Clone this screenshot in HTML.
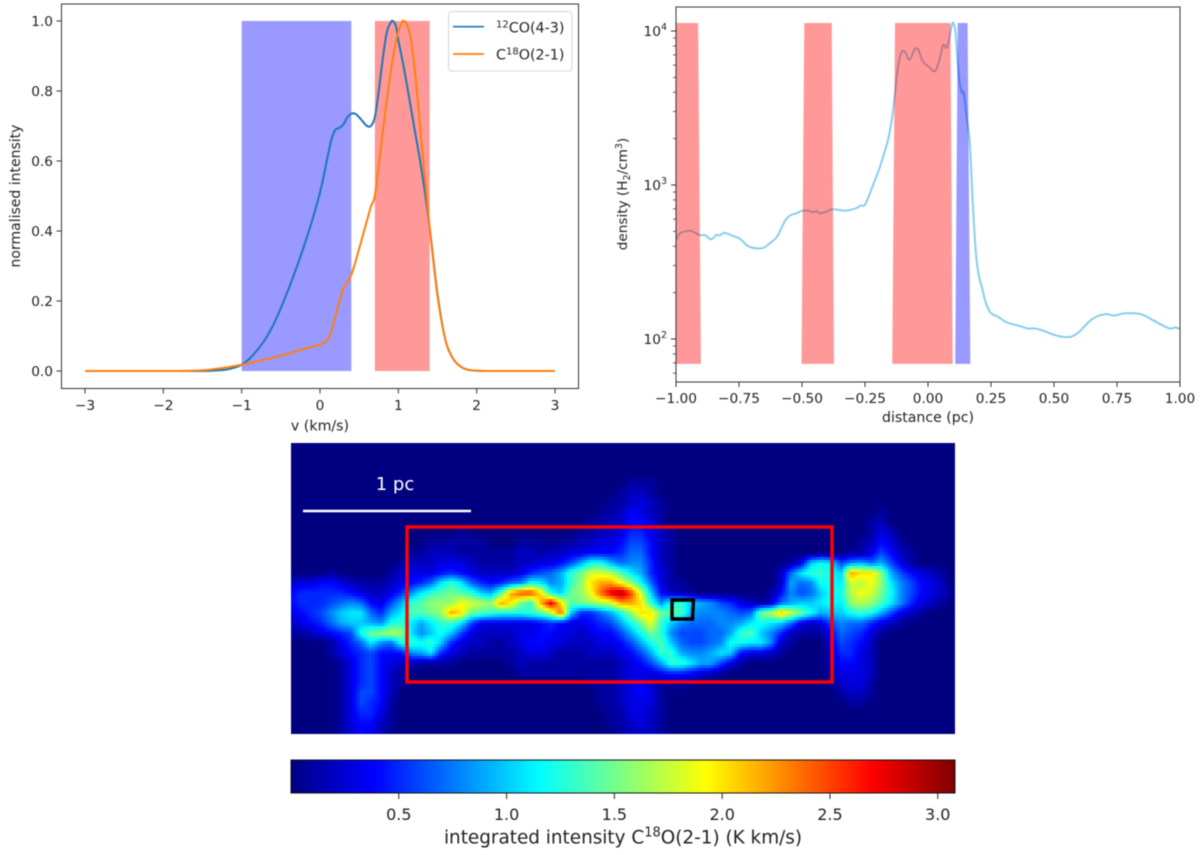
<!DOCTYPE html>
<html lang="en">
<head>
<meta charset="utf-8">
<title>Line profiles, density cut and integrated intensity map</title>
<style>
  html, body { margin: 0; padding: 0; background: #fff; }
  svg { display: block; filter: blur(0.45px); }
  text { font-family: "DejaVu Sans", "Liberation Sans", sans-serif; fill: #222; }
</style>
</head>
<body>
<svg id="figure" xmlns="http://www.w3.org/2000/svg" width="1200" height="855" viewBox="0 0 1200 855">
  <rect x="0" y="0" width="1200" height="855" fill="#fff"/>
  <g id="spectrum"></g>
  <g id="density"></g>
  <g id="map"></g>
  <g id="colorbar"></g>

  <g>
    <rect x="448.5" y="11.5" width="123.5" height="59.5" rx="3" fill="#fff" fill-opacity="0.85" stroke="#d5d5d5" stroke-width="1"/>
    <line x1="453" y1="26.7" x2="484" y2="26.7" stroke="#1f77b4" stroke-width="1.7"/>
    <text x="496" y="32.3" font-size="14.3"><tspan font-size="10" dy="-5">12</tspan><tspan dy="5">CO(4-3)</tspan></text>
    <line x1="453" y1="54" x2="484" y2="54" stroke="#ff7f0e" stroke-width="1.7"/>
    <text x="496" y="59.5" font-size="14.3">C<tspan font-size="10" dy="-5">18</tspan><tspan dy="5">O(2-1)</tspan></text>
  </g>

  <text x="320" y="430.5" font-size="14.2" text-anchor="middle">v (km/s)</text>
  <text transform="translate(20,196) rotate(-90)" font-size="14" text-anchor="middle">normalised intensity</text>
  <text x="928" y="422" font-size="14.1" text-anchor="middle">distance (pc)</text>
  <text transform="translate(627,194) rotate(-90)" font-size="13.6" text-anchor="middle">density (H<tspan font-size="9.5" dy="3">2</tspan><tspan dy="-3">/cm</tspan><tspan font-size="9.5" dy="-5">3</tspan><tspan dy="5">)</tspan></text>
  <text x="623" y="843.5" font-size="18.4" text-anchor="middle">integrated intensity C<tspan font-size="13" dy="-7">18</tspan><tspan dy="7">O(2-1) (K km/s)</tspan></text>
</svg>

<script>
// ---------- Spectrum chart data ----------
const coVelocity = [-3,-2,-1.5,-1.3,-1.2,-1.1,-1,-0.9,-0.8,-0.7,-0.6,-0.5,-0.4,-0.3,-0.2,-0.1,0,0.05,0.1,0.15,0.2,0.25,0.3,0.35,0.4,0.45,0.5,0.55,0.6,0.65,0.7,0.75,0.8,0.85,0.9,0.93,0.97,1,1.05,1.1,1.2,1.3,1.4,1.5,1.6,1.7,1.8,1.9,2,2.2,3];
const coIntensity = [0,0,0,0.002,0.004,0.009,0.018,0.035,0.06,0.09,0.13,0.18,0.235,0.295,0.36,0.43,0.51,0.56,0.615,0.665,0.69,0.695,0.705,0.725,0.735,0.735,0.725,0.712,0.7,0.7,0.725,0.8,0.89,0.965,0.995,1,0.985,0.945,0.89,0.83,0.7,0.57,0.41,0.22,0.09,0.035,0.012,0.003,0.001,0,0];
const c18oVelocity = [-3,-2,-1.6,-1.5,-1.4,-1.3,-1.2,-1.1,-1,-0.8,-0.6,-0.4,-0.2,0,0.05,0.1,0.15,0.2,0.25,0.3,0.35,0.4,0.45,0.5,0.55,0.6,0.65,0.7,0.75,0.8,0.85,0.9,0.95,1,1.05,1.07,1.1,1.15,1.2,1.25,1.3,1.35,1.4,1.5,1.6,1.7,1.8,1.9,2,2.2,3];
const c18oIntensity = [0,0,0.001,0.002,0.004,0.007,0.01,0.014,0.018,0.028,0.038,0.05,0.063,0.076,0.08,0.09,0.115,0.16,0.2,0.235,0.255,0.275,0.31,0.35,0.39,0.43,0.47,0.5,0.59,0.68,0.77,0.85,0.92,0.97,0.998,1,0.995,0.96,0.88,0.77,0.64,0.53,0.41,0.215,0.09,0.035,0.012,0.003,0.001,0,0];
const spectrumXTicks = [-3,-2,-1,0,1,2,3];
const spectrumYTicks = [0,0.2,0.4,0.6,0.8,1];
const blueWindow = [-1,0.4];
const redWindow = [0.7,1.4];

// ---------- Density chart data ----------
const cutDistance = [-1,-0.985,-0.967,-0.939,-0.906,-0.886,-0.86,-0.841,-0.825,-0.81,-0.78,-0.745,-0.715,-0.681,-0.651,-0.625,-0.602,-0.582,-0.564,-0.544,-0.522,-0.499,-0.476,-0.456,-0.443,-0.431,-0.408,-0.382,-0.355,-0.332,-0.309,-0.286,-0.268,-0.251,-0.233,-0.218,-0.195,-0.172,-0.157,-0.142,-0.131,-0.119,-0.104,-0.089,-0.077,-0.066,-0.055,-0.04,-0.02,0.003,0.021,0.033,0.048,0.06,0.075,0.086,0.098,0.109,0.116,0.124,0.134,0.142,0.154,0.166,0.177,0.189,0.2,0.215,0.23,0.248,0.276,0.314,0.359,0.397,0.427,0.465,0.503,0.541,0.572,0.602,0.64,0.67,0.708,0.739,0.784,0.845,0.891,0.921,0.959,0.982,1];
const cutDensity = [440,485,498,503,473,473,444,473,471,490,471,446,402,388,392,422,455,523,598,638,655,681,681,664,681,655,668,695,689,681,689,705,734,741,861,1000,1251,1645,2009,2780,3936,5866,7345,7228,6546,6745,7530,7640,6324,5866,5495,5636,6745,8110,7800,9183,11324,9908,6808,4808,4000,3936,2711,1866,800,378,267,213,171,148,140,128,122,117,117,112,106,103,104,112,130,140,145,142,147,145,133,125,117,119,116];
const densityXTicks = [-1,-0.75,-0.5,-0.25,0,0.25,0.5,0.75,1];
const densityDecades = [2,3,4];
const densityMinorTicks = [60,70,80,90,200,300,400,500,600,700,800,900,2000,3000,4000,5000,6000,7000,8000,9000];
const redBandTopLeft = [-1,-0.491,-0.131];
const redBandTopRight = [-0.912,-0.382,0.089];
const redBandBottomLeft = [-1,-0.502,-0.142];
const redBandBottomRight = [-0.901,-0.373,0.098];
const blueBandTop = [0.118,0.157];
const blueBandBottom = [0.108,0.168];
const bandDensityRange = [69,11270];

// ---------- Map data: integrated intensity in tenths of K km/s, rows top to bottom ----------
const intensityRows = [
[0],[0],[0],[0],
[0,0,0,0,0,0,0,0,0,0, 0,0,0,0,0,0,0,0,0,0, 0,0,0,0,0,0,0,0,0,0, 0,0,0,0,1,1,1,0,0,0],
[0,0,0,0,0,0,0,0,0,0, 0,0,0,0,0,0,0,0,0,0, 0,0,0,0,0,0,0,0,0,0, 0,0,0,1,2,2,1,0,0,0],
[0,0,0,0,0,0,0,0,0,0, 0,0,0,0,0,0,0,0,0,0, 0,0,0,0,0,0,0,0,0,0, 0,0,1,1,2,3,2,1,0,0],
[0,0,0,0,0,0,0,0,0,0, 0,0,0,0,0,0,0,0,0,0, 0,0,0,0,0,0,0,0,0,0, 0,1,1,2,4,3,2,1,0,0, 0,0,0,0,0,0,0,0,0,0, 0,0,0,0,0,0,0,0,0,1],
[0,0,0,0,0,0,0,0,0,0, 0,0,0,0,0,0,0,0,0,0, 0,0,0,0,0,0,0,0,0,0, 1,1,2,2,4,4,3,1,0,0, 0,0,0,0,0,0,0,0,0,0, 0,0,0,0,0,0,0,0,1,2],
[0,0,0,0,0,0,0,0,0,0, 0,0,0,0,0,0,0,1,0,0, 0,0,0,0,0,0,0,0,0,1, 1,2,2,3,5,5,3,2,1,0, 0,0,0,0,0,0,0,0,0,0, 0,0,0,0,0,0,0,0,1,3, 2],
[0,0,0,0,0,0,0,0,0,0, 0,0,0,0,1,1,1,1,1,1, 0,0,0,1,1,1,0,1,1,2, 2,3,3,4,6,6,4,2,1,0, 0,0,0,0,0,0,0,0,0,0, 0,0,0,0,0,0,0,1,2,4, 3,1],
[0,0,0,0,0,0,0,0,0,0, 0,0,1,1,2,2,2,1,1,1, 1,1,1,2,2,1,2,2,3,3, 4,4,4,5,7,7,4,2,1,0, 0,0,0,0,0,0,0,0,0,0, 0,0,0,0,0,0,1,1,3,6, 4,2,1],
[0,0,0,0,0,0,0,0,0,0, 0,1,2,2,2,3,3,3,2,1, 1,1,1,2,2,3,3,4,6,9, 12,12,9,7,8,8,5,2,1,0, 0,0,0,0,0,0,0,0,0,0, 1,3,10,12,11,6,8,9,7,9, 6,3,1],
[0,0,0,0,1,0,0,0,0,0, 1,2,3,3,3,4,5,4,3,2, 2,2,2,3,5,6,7,9,13,15, 18,18,17,14,11,9,5,3,1,0, 0,0,0,0,0,0,0,0,0,2, 7,11,13,13,12,10,22,20,20,16, 9,6,4,3,2,1],
[2,3,3,4,4,3,2,1,1,1, 2,3,4,5,7,11,13,11,7,5, 4,5,7,8,12,11,8,9,13,16, 20,22,22,19,16,12,7,3,1,1, 0,0,0,0,0,0,0,0,0,2, 9,7,8,12,12,11,18,17,19,16, 11,8,6,4,3,2],
[4,5,5,5,5,5,4,3,2,2, 3,5,8,11,13,14,15,14,13,10, 9,14,22,25,25,20,12,10,15,16, 19,24,28,30,25,18,10,4,2,1, 1,0,0,0,0,0,0,0,1,4, 8,6,7,10,12,12,17,19,18,15, 12,8,6,4,3,2,1],
[4,5,5,5,6,7,8,7,4,3, 6,9,13,14,16,16,16,19,18,17, 16,22,20,15,13,22,28,20,14,15, 16,17,18,22,22,20,13,8,12,13, 10,9,8,6,5,3,2,1,2,7, 9,10,10,11,12,11,16,17,16,14, 11,8,5,3,2,1],
[3,4,5,6,8,10,11,11,7,5, 9,11,14,14,15,16,22,20,15,14, 13,12,12,12,13,14,17,24,10,5, 5,7,9,12,16,20,20,15,14,14, 9,8,8,8,7,6,7,15,17,21, 18,15,12,9,10,10,12,13,12,9, 6,3,2,1],
[2,3,4,5,7,9,10,10,9,8, 12,13,11,9,11,13,13,11,6,3, 3,3,3,3,3,4,5,4,3,3, 4,5,6,9,12,15,19,13,10,8, 7,7,7,8,8,9,11,12,11,10, 7,3,2,3,6,8,7,7,5,3, 2,1],
[1,1,2,3,4,5,6,12,15,16, 17,16,11,8,10,12,10,6,3,2, 2,2,2,3,3,4,4,3,3,2, 3,4,4,6,9,12,15,13,8,6, 6,6,7,7,9,13,14,10,8,5, 2,1,1,1,4,7,6,5,3,1],
[0,0,0,0,1,3,5,7,11,8, 7,12,13,12,13,10,5,3,2,2, 1,1,2,3,4,4,3,3,2,2, 2,3,3,4,6,9,12,14,10,7, 6,6,7,8,12,12,11,11,8,2, 1,0,0,0,3,6,5,4,2,0],
[0,0,0,0,1,3,4,5,6,4, 4,4,8,9,11,5,3,2,1,1, 1,1,1,2,3,3,2,1,1,1, 2,2,2,3,4,6,9,13,13,9, 8,8,9,11,10,4,3,3,2,1, 0,0,0,0,2,5,5,3,2,0],
[0,0,0,0,0,1,3,5,6,4, 3,2,2,1,1,1,1,0,0,0, 0,0,1,2,1,1,1,1,1,1, 1,1,1,2,3,4,6,9,13,13, 11,9,9,6,3,1,0,0,0,0, 0,0,0,0,2,4,4,3,2,0],
[0,0,0,0,0,1,3,5,6,4, 2,1,0,0,0,0,0,0,0,0, 0,0,0,1,1,1,1,1,1,1, 1,1,1,2,3,3,3,4,5,5, 4,3,2,1,0,0,0,0,0,0, 0,0,0,0,1,3,3,3,2,0],
[0,0,0,0,0,1,3,5,6,4, 2,1,0,0,0,0,0,0,0,0, 0,0,0,0,0,0,0,0,0,0, 1,1,1,2,3,4,2,1,1,1, 1,0,0,0,0,0,0,0,0,0, 0,0,0,0,1,2,3,3,1,0],
[0,0,0,0,0,1,3,6,6,4, 2,0,0,0,0,0,0,0,0,0, 0,0,0,0,0,0,0,0,0,0, 0,1,1,2,3,4,3,1,0,0, 0,0,0,0,0,0,0,0,0,0, 0,0,0,0,0,1,2,2,1,0],
[0,0,0,0,0,1,3,6,5,4, 1,0,0,0,0,0,0,0,0,0, 0,0,0,0,0,0,0,0,0,0, 0,1,1,2,3,3,3,1,0,0, 0,0,0,0,0,0,0,0,0,0, 0,0,0,0,0,0,1,1,0,0],
[0,0,0,0,0,1,3,5,5,3, 1,0,0,0,0,0,0,0,0,0, 0,0,0,0,0,0,0,0,0,0, 0,0,1,1,3,3,2,1,0,0],
[0,0,0,0,0,1,3,4,4,2, 1,0,0,0,0,0,0,0,0,0, 0,0,0,0,0,0,0,0,0,0, 0,0,1,1,2,3,2,1,0,0],
[0,0,0,0,0,1,2,4,3,2, 0,0,0,0,0,0,0,0,0,0, 0,0,0,0,0,0,0,0,0,0, 0,0,0,1,2,2,2,1,0,0]
];
const colorbarTicks = [0.5,1,1.5,2,2.5,3];
const colorRange = [0,3.08];

// ---------- Helpers ----------
const NS = 'http://www.w3.org/2000/svg';
function make(parent, tag, attrs) {
  const el = document.createElementNS(NS, tag);
  for (const k in attrs) el.setAttribute(k, attrs[k]);
  parent.appendChild(el);
  return el;
}
function fmt(v, digits) {
  return v.toFixed(digits).replace('-', '\u2212');
}
function smoothPath(pts) {
  let d = 'M' + pts[0][0].toFixed(2) + ' ' + pts[0][1].toFixed(2);
  for (let i = 0; i < pts.length - 1; i++) {
    const p0 = pts[Math.max(i - 1, 0)], p1 = pts[i], p2 = pts[i + 1], p3 = pts[Math.min(i + 2, pts.length - 1)];
    const c1x = p1[0] + (p2[0] - p0[0]) / 6, c1y = p1[1] + (p2[1] - p0[1]) / 6;
    const c2x = p2[0] - (p3[0] - p1[0]) / 6, c2y = p2[1] - (p3[1] - p1[1]) / 6;
    d += 'C' + c1x.toFixed(2) + ' ' + c1y.toFixed(2) + ' ' + c2x.toFixed(2) + ' ' + c2y.toFixed(2) + ' ' + p2[0].toFixed(2) + ' ' + p2[1].toFixed(2);
  }
  return d;
}
function clamp01(v) { return Math.max(0, Math.min(1, v)); }
function jet(value) {
  const t = clamp01((value - colorRange[0]) / (colorRange[1] - colorRange[0]));
  const r = clamp01(1.5 - Math.abs(4 * t - 3));
  const g = clamp01(1.5 - Math.abs(4 * t - 2));
  const b = clamp01(1.5 - Math.abs(4 * t - 1));
  return 'rgb(' + Math.round(r * 255) + ',' + Math.round(g * 255) + ',' + Math.round(b * 255) + ')';
}

// ---------- Spectrum chart ----------
(function () {
  const g = document.getElementById('spectrum');
  const box = { l: 61.5, r: 578.5, t: 4, b: 388.5 };
  const sx = v => 85 + (v + 3) * (470 / 6);
  const sy = v => 371 - v * 350;

  const blueRect = make(g, 'rect', { x: sx(blueWindow[0]), y: sy(1), width: sx(blueWindow[1]) - sx(blueWindow[0]), height: sy(0) - sy(1), fill: '#0000ff', 'fill-opacity': 0.4 });
  
  
  const redRect = make(g, 'rect', { x: sx(redWindow[0]), y: sy(1), width: sx(redWindow[1]) - sx(redWindow[0]), height: sy(0) - sy(1), fill: '#ff0000', 'fill-opacity': 0.4 });
  
  

  const coLine = make(g, 'path', { d: smoothPath(coVelocity.map((v, i) => [sx(v), sy(coIntensity[i])])), fill: 'none', stroke: '#1f77b4', 'stroke-width': 2 });
  
  
  const c18oLine = make(g, 'path', { d: smoothPath(c18oVelocity.map((v, i) => [sx(v), sy(c18oIntensity[i])])), fill: 'none', stroke: '#ff7f0e', 'stroke-width': 2 });
  
  

  const frame = make(g, 'rect', { x: box.l, y: box.t, width: box.r - box.l, height: box.b - box.t, fill: 'none', stroke: '#333', 'stroke-width': 1 });
  
  

  spectrumXTicks.forEach(v => {
    const tick = make(g, 'line', { x1: sx(v), x2: sx(v), y1: box.b, y2: box.b + 5, stroke: '#333', 'stroke-width': 1 });
    
    
    const label = make(g, 'text', { x: sx(v), y: 410, 'font-size': 13.7, 'text-anchor': 'middle' });
    
    
    label.textContent = fmt(v, 0);
  });
  spectrumYTicks.forEach(v => {
    const tick = make(g, 'line', { x1: box.l - 5, x2: box.l, y1: sy(v), y2: sy(v), stroke: '#333', 'stroke-width': 1 });
    
    
    const label = make(g, 'text', { x: 53, y: sy(v) + 5, 'font-size': 13.7, 'text-anchor': 'end' });
    
    
    label.textContent = fmt(v, 1);
  });
})();

// ---------- Density chart ----------
(function () {
  const g = document.getElementById('density');
  const box = { l: 676, r: 1180, t: 7, b: 382 };
  const sx = d => box.l + (d + 1) * (box.r - box.l) / 2;
  const sy = v => 339 - (Math.log10(v) - 2) * 154;

  const line = make(g, 'path', { d: smoothPath(cutDistance.map((d, i) => [sx(d), sy(cutDensity[i])])), fill: 'none', stroke: '#87ceeb', 'stroke-width': 2 });
  
  

  const yTop = sy(bandDensityRange[1]), yBot = sy(bandDensityRange[0]);
  redBandTopLeft.forEach((tl, i) => {
    const pts = [[sx(tl), yTop], [sx(redBandTopRight[i]), yTop], [sx(redBandBottomRight[i]), yBot], [sx(redBandBottomLeft[i]), yBot]];
    const band = make(g, 'polygon', { points: pts.map(p => p.join(',')).join(' '), fill: '#ff0000', 'fill-opacity': 0.4 });
    
    
  });
  const bluePts = [[sx(blueBandTop[0]), yTop], [sx(blueBandTop[1]), yTop], [sx(blueBandBottom[1]), yBot], [sx(blueBandBottom[0]), yBot]];
  const blueBand = make(g, 'polygon', { points: bluePts.map(p => p.join(',')).join(' '), fill: '#0000ff', 'fill-opacity': 0.4 });
  
  

  const frame = make(g, 'rect', { x: box.l, y: box.t, width: box.r - box.l, height: box.b - box.t, fill: 'none', stroke: '#333', 'stroke-width': 1 });
  
  

  densityXTicks.forEach(v => {
    const tick = make(g, 'line', { x1: sx(v), x2: sx(v), y1: box.b, y2: box.b + 5, stroke: '#333', 'stroke-width': 1 });
    
    
    const label = make(g, 'text', { x: sx(v), y: 403, 'font-size': 13.7, 'text-anchor': 'middle' });
    
    
    label.textContent = fmt(v, 2);
  });
  densityDecades.forEach(e => {
    const y = sy(Math.pow(10, e));
    const tick = make(g, 'line', { x1: box.l - 5, x2: box.l, y1: y, y2: y, stroke: '#333', 'stroke-width': 1 });
    
    
    const label = make(g, 'text', { x: 667, y: y + 5, 'font-size': 13.7, 'text-anchor': 'end' });
    
    
    const base = make(label, 'tspan', {});
    base.textContent = '10';
    const exp = make(label, 'tspan', { 'font-size': 9.5, dy: -6 });
    exp.textContent = String(e);
  });
  densityMinorTicks.forEach(v => {
    const y = sy(v);
    const tick = make(g, 'line', { x1: box.l - 3, x2: box.l, y1: y, y2: y, stroke: '#333', 'stroke-width': 0.8 });
    
    
  });
})();

// ---------- Intensity map ----------
(function () {
  const g = document.getElementById('map');
  const left = 291, top = 443, width = 664, height = 291;
  const gridStep = 10, cell = 3;
  const sample = (r, c) => ((intensityRows[Math.min(r, intensityRows.length - 1)] || [])[c] || 0);
  const cells = make(g, 'g', { 'shape-rendering': 'crispEdges' });
  
  
  const frag = document.createDocumentFragment();
  for (let py = 0; py < height; py += cell) {
    const fy = (py + cell / 2) / gridStep, r0 = Math.floor(fy), ty = fy - r0;
    for (let px = 0; px < width; px += cell) {
      const fx = (px + cell / 2) / gridStep, c0 = Math.floor(fx), tx = fx - c0;
      const v = (sample(r0, c0) * (1 - tx) + sample(r0, c0 + 1) * tx) * (1 - ty) +
                (sample(r0 + 1, c0) * (1 - tx) + sample(r0 + 1, c0 + 1) * tx) * ty;
      const rect = document.createElementNS(NS, 'rect');
      rect.setAttribute('x', left + px);
      rect.setAttribute('y', top + py);
      rect.setAttribute('width', Math.min(cell, width - px));
      rect.setAttribute('height', Math.min(cell, height - py));
      rect.setAttribute('fill', jet(v / 10));
      
      
      frag.appendChild(rect);
    }
  }
  cells.appendChild(frag);

  const bar = make(g, 'line', { x1: 303, x2: 471, y1: 511, y2: 511, stroke: '#fff', 'stroke-width': 2.4 });
  
  
  const barLabel = make(g, 'text', { x: 395, y: 490, 'font-size': 18, 'text-anchor': 'middle', style: 'fill:#fff' });
  
  
  barLabel.textContent = '1 pc';
  const redBox = make(g, 'rect', { x: 407, y: 527, width: 425, height: 155, fill: 'none', stroke: '#ff0000', 'stroke-width': 3.4 });
  
  
  const blackBox = make(g, 'polygon', { points: '672,600 693.5,600 692.5,619 672,619', fill: 'none', stroke: '#000', 'stroke-width': 3.4 });
  
  
})();

// ---------- Colorbar ----------
(function () {
  const g = document.getElementById('colorbar');
  const left = 291, right = 955, top = 760, bottom = 793;
  const sx = v => left + (v - colorRange[0]) / (colorRange[1] - colorRange[0]) * (right - left);
  const steps = right - left;
  for (let i = 0; i < steps; i += 2) {
    const v = colorRange[0] + (i + 1) / steps * (colorRange[1] - colorRange[0]);
    const swatch = make(g, 'rect', { x: left + i, y: top, width: 2.2, height: bottom - top, fill: jet(v) });
    
    
  }
  const frame = make(g, 'rect', { x: left, y: top, width: right - left, height: bottom - top, fill: 'none', stroke: '#111', 'stroke-width': 1 });
  
  
  colorbarTicks.forEach(v => {
    const tick = make(g, 'line', { x1: sx(v), x2: sx(v), y1: bottom, y2: bottom + 6, stroke: '#222', 'stroke-width': 1 });
    
    
    const label = make(g, 'text', { x: sx(v), y: 820, 'font-size': 16, 'text-anchor': 'middle' });
    
    
    label.textContent = v.toFixed(1);
  });
})();
</script>
</body>
</html>
